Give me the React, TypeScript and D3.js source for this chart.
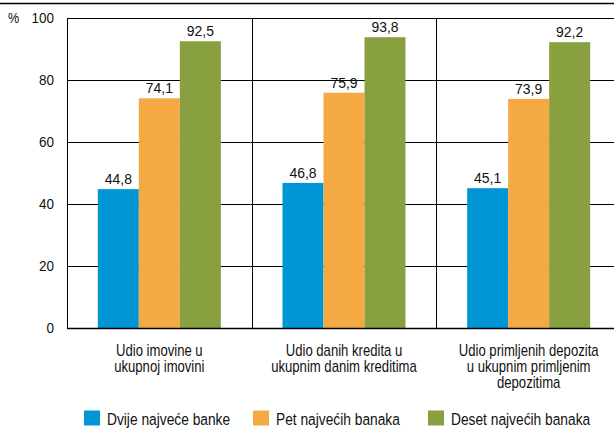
import React from "react";
import * as d3 from "d3";

const categories = [
  ["Udio imovine u", "ukupnoj imovini"],
  ["Udio danih kredita u", "ukupnim danim kreditima"],
  ["Udio primljenih depozita", "u ukupnim primljenim", "depozitima"],
];
const seriesNames = ["Dvije najveće banke", "Pet najvećih banaka", "Deset najvećih banaka"];
const seriesColors = ["#0096d6", "#f5a943", "#89a040"];
const dvije = [44.8, 46.8, 45.1];
const pet = [74.1, 75.9, 73.9];
const deset = [92.5, 93.8, 92.2];
const yTicks = [0, 20, 40, 60, 80, 100];

const W = 614, H = 428;
const FONT = "'Liberation Sans', Arial, sans-serif";
const SX = 0.84;

function Txt({ x, y, size, anchor = "start", sx = SX, children }: any) {
  return (
    <text
      transform={`translate(${x},${y}) scale(${sx},1)`}
      textAnchor={anchor}
      fontSize={size}
      fill="#111"
    >
      {children}
    </text>
  );
}

export default function App() {
  const values = [dvije, pet, deset];
  const x = d3.scaleBand<number>().domain([0, 1, 2]).range([67, 621]);
  const inner = d3.scaleBand<number>().domain([0, 1, 2]).range([0, 123]);
  const y = d3.scaleLinear().domain([0, 100]).range([328, 18]);
  const fmt = (v: number) => v.toFixed(1).replace(".", ",");
  const groupOffset = (x.bandwidth() - 123) / 2;
  const legendX = [84, 253, 428];

  return (
    <svg width={W} height={H} style={{ position: "absolute", left: 0, top: 0, fontFamily: FONT }}>
      <line x1={0} x2={W} y1={3.5} y2={3.5} stroke="#000" strokeWidth={1.5} />
      {yTicks.filter((t) => t > 0).map((t) => (
        <line key={t} x1={67} x2={W} y1={Math.round(y(t)) + 0.5} y2={Math.round(y(t)) + 0.5} stroke="#000" strokeWidth={1} />
      ))}
      {[0, 1, 2].map((i) => (
        <line key={i} x1={Math.round(x(i)!) + 0.5} x2={Math.round(x(i)!) + 0.5} y1={18} y2={328} stroke="#000" strokeWidth={1} />
      ))}
      {values.map((vals, s) =>
        vals.map((v, i) => {
          const bx = x(i)! + groupOffset + inner(s)!;
          return (
            <g key={`${s}-${i}`}>
              <rect x={bx} y={y(v)} width={inner.bandwidth()} height={y(0) - y(v)} fill={seriesColors[s]} />
              <Txt x={bx + inner.bandwidth() / 2} y={y(v) - 5} size={15.5} anchor="middle" sx={0.9}>
                {fmt(v)}
              </Txt>
            </g>
          );
        })
      )}
      <line x1={67} x2={W} y1={328.5} y2={328.5} stroke="#000" strokeWidth={1.5} />
      {yTicks.map((t) => (
        <Txt key={t} x={54} y={y(t) + 5.3} size={15.5} anchor="end" sx={0.87}>
          {t}
        </Txt>
      ))}
      <Txt x={8} y={23} size={14.5} sx={0.87}>%</Txt>
      {categories.map((lines, i) =>
        lines.map((l, j) => (
          <Txt key={`${i}-${j}`} x={x(i)! + x.bandwidth() / 2} y={355.5 + j * 16.3} size={15.8} anchor="middle" sx={0.83}>
            {l}
          </Txt>
        ))
      )}
      {seriesNames.map((n, s) => (
        <g key={n}>
          <rect x={legendX[s]} y={410.5} width={16} height={15} fill={seriesColors[s]} />
          <Txt x={legendX[s] + 23} y={424.7} size={17} sx={0.81}>{n}</Txt>
        </g>
      ))}
    </svg>
  );
}
